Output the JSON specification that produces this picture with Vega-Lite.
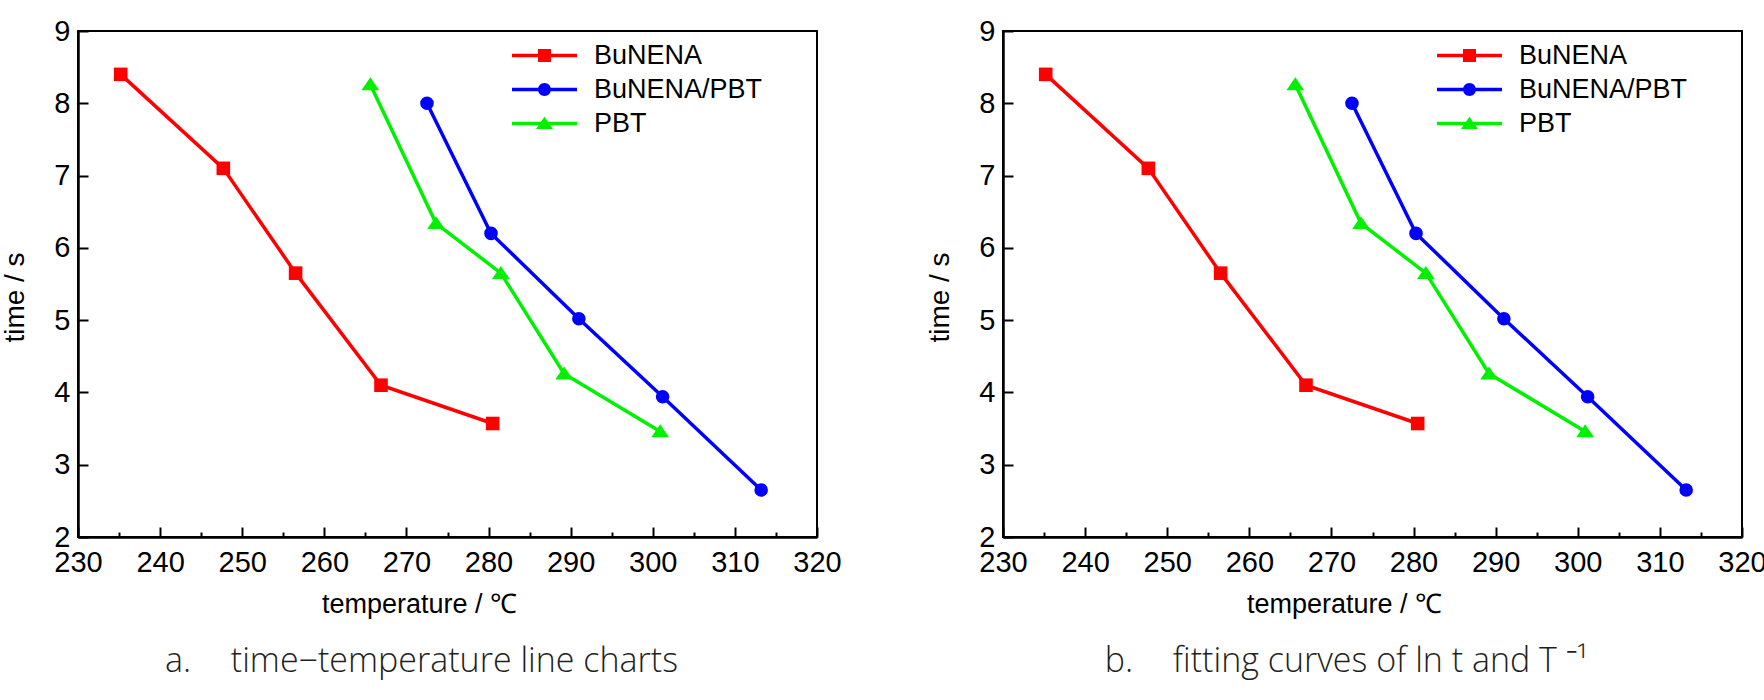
{
  "$schema": "https://vega.github.io/schema/vega-lite/v6.json",
  "padding": {"left": 0, "top": 16, "right": 0, "bottom": 0},
  "background": "white",
  "datasets": {
    "runs": [
      {"series": "BuNENA", "temp": 235.2, "time": 8.40},
      {"series": "BuNENA", "temp": 247.7, "time": 7.10},
      {"series": "BuNENA", "temp": 256.5, "time": 5.65},
      {"series": "BuNENA", "temp": 266.9, "time": 4.10},
      {"series": "BuNENA", "temp": 280.5, "time": 3.57},
      {"series": "BuNENA/PBT", "temp": 272.5, "time": 8.00},
      {"series": "BuNENA/PBT", "temp": 280.3, "time": 6.20},
      {"series": "BuNENA/PBT", "temp": 291.0, "time": 5.02},
      {"series": "BuNENA/PBT", "temp": 301.2, "time": 3.94},
      {"series": "BuNENA/PBT", "temp": 313.2, "time": 2.65},
      {"series": "PBT", "temp": 265.6, "time": 8.26},
      {"series": "PBT", "temp": 273.6, "time": 6.34},
      {"series": "PBT", "temp": 281.5, "time": 5.65},
      {"series": "PBT", "temp": 289.2, "time": 4.26},
      {"series": "PBT", "temp": 300.9, "time": 3.46}
    ]
  },
  "spacing": 82,
  "resolve": {"scale": {"color": "independent", "shape": "independent"}},
  "hconcat": [
    {
      "width": 739,
      "height": 506,
      "title": {"text": "a.\u2003\u2009time−temperature line charts"},
      "data": {"name": "runs"},
      "encoding": {
        "x": {
          "field": "temp",
          "type": "quantitative",
          "title": "temperature / ℃",
          "scale": {"domain": [230, 320], "nice": false, "zero": false},
          "axis": {
            "values": [230, 235, 240, 245, 250, 255, 260, 265, 270, 275, 280, 285, 290, 295, 300, 305, 310, 315, 320],
            "format": "d",
            "labelExpr": "datum.value % 10 === 0 ? datum.label : ''",
            "tickSize": {"condition": {"test": "datum.value % 10 === 0", "value": -10}, "value": -5}
          }
        },
        "y": {
          "field": "time",
          "type": "quantitative",
          "title": "time / s",
          "scale": {"domain": [2, 9], "nice": false, "zero": false},
          "axis": {
            "values": [2, 2.5, 3, 3.5, 4, 4.5, 5, 5.5, 6, 6.5, 7, 7.5, 8, 8.5, 9],
            "format": "d",
            "labelExpr": "datum.value % 1 === 0 ? datum.label : ''",
            "tickSize": {"condition": {"test": "datum.value % 1 === 0", "value": -10}, "value": -5}
          }
        },
        "detail": {"field": "series"},
        "color": {
          "condition": [
            {"test": "datum.series === 'BuNENA'", "value": "#ff0000"},
            {"test": "datum.series === 'BuNENA/PBT'", "value": "#0000ff"}
          ],
          "value": "#00f000"
        }
      },
      "layer": [
        {"mark": {"type": "line", "strokeWidth": 3.5}},
        {
          "mark": {"type": "point", "filled": true, "opacity": 1, "size": 185, "strokeWidth": 0},
          "encoding": {
            "shape": {
              "condition": [
                {"test": "datum.series === 'BuNENA'", "value": "square"},
                {"test": "datum.series === 'BuNENA/PBT'", "value": "circle"}
              ],
              "value": "M0,-1.05L1.3,0.85L-1.3,0.85Z"
            }
          }
        },
        {
          "transform": [{"filter": "false"}],
          "mark": {"type": "point", "filled": true, "opacity": 1, "strokeWidth": 0},
          "encoding": {
            "color": {
              "field": "series",
              "type": "nominal",
              "scale": {"domain": ["BuNENA", "BuNENA/PBT", "PBT"], "range": ["#ff0000", "#0000ff", "#00f000"]},
              "legend": {"orient": "none", "legendX": 453, "legendY": 11, "title": null}
            },
            "shape": {
              "field": "series",
              "type": "nominal",
              "scale": {
                "domain": ["BuNENA", "BuNENA/PBT", "PBT"],
                "range": [
                  "M-5,-0.27H5V0.27H-5Z M-1,-1H1V1H-1Z",
                  "M-5,-0.27H5V0.27H-5Z M-1,0A1,1 0 1,1 1,0A1,1 0 1,1 -1,0Z",
                  "M-5,-0.27H5V0.27H-5Z M0,-1.05L1.3,0.85L-1.3,0.85Z"
                ]
              },
              "legend": {"orient": "none", "legendX": 453, "legendY": 11, "title": null}
            }
          }
        }
      ]
    },
    {
      "width": 739,
      "height": 506,
      "title": {"text": "b.\u2003\u2009fitting curves of ln t and T ⁻¹"},
      "data": {"name": "runs"},
      "encoding": {
        "x": {
          "field": "temp",
          "type": "quantitative",
          "title": "temperature / ℃",
          "scale": {"domain": [230, 320], "nice": false, "zero": false},
          "axis": {
            "values": [230, 235, 240, 245, 250, 255, 260, 265, 270, 275, 280, 285, 290, 295, 300, 305, 310, 315, 320],
            "format": "d",
            "labelExpr": "datum.value % 10 === 0 ? datum.label : ''",
            "tickSize": {"condition": {"test": "datum.value % 10 === 0", "value": -10}, "value": -5}
          }
        },
        "y": {
          "field": "time",
          "type": "quantitative",
          "title": "time / s",
          "scale": {"domain": [2, 9], "nice": false, "zero": false},
          "axis": {
            "values": [2, 2.5, 3, 3.5, 4, 4.5, 5, 5.5, 6, 6.5, 7, 7.5, 8, 8.5, 9],
            "format": "d",
            "labelExpr": "datum.value % 1 === 0 ? datum.label : ''",
            "tickSize": {"condition": {"test": "datum.value % 1 === 0", "value": -10}, "value": -5}
          }
        },
        "detail": {"field": "series"},
        "color": {
          "condition": [
            {"test": "datum.series === 'BuNENA'", "value": "#ff0000"},
            {"test": "datum.series === 'BuNENA/PBT'", "value": "#0000ff"}
          ],
          "value": "#00f000"
        }
      },
      "layer": [
        {"mark": {"type": "line", "strokeWidth": 3.5}},
        {
          "mark": {"type": "point", "filled": true, "opacity": 1, "size": 185, "strokeWidth": 0},
          "encoding": {
            "shape": {
              "condition": [
                {"test": "datum.series === 'BuNENA'", "value": "square"},
                {"test": "datum.series === 'BuNENA/PBT'", "value": "circle"}
              ],
              "value": "M0,-1.05L1.3,0.85L-1.3,0.85Z"
            }
          }
        },
        {
          "transform": [{"filter": "false"}],
          "mark": {"type": "point", "filled": true, "opacity": 1, "strokeWidth": 0},
          "encoding": {
            "color": {
              "field": "series",
              "type": "nominal",
              "scale": {"domain": ["BuNENA", "BuNENA/PBT", "PBT"], "range": ["#ff0000", "#0000ff", "#00f000"]},
              "legend": {"orient": "none", "legendX": 453, "legendY": 11, "title": null}
            },
            "shape": {
              "field": "series",
              "type": "nominal",
              "scale": {
                "domain": ["BuNENA", "BuNENA/PBT", "PBT"],
                "range": [
                  "M-5,-0.27H5V0.27H-5Z M-1,-1H1V1H-1Z",
                  "M-5,-0.27H5V0.27H-5Z M-1,0A1,1 0 1,1 1,0A1,1 0 1,1 -1,0Z",
                  "M-5,-0.27H5V0.27H-5Z M0,-1.05L1.3,0.85L-1.3,0.85Z"
                ]
              },
              "legend": {"orient": "none", "legendX": 453, "legendY": 11, "title": null}
            }
          }
        }
      ]
    }
  ],
  "config": {
    "font": "Liberation Sans",
    "view": {"stroke": "black", "strokeWidth": 2},
    "axis": {
      "grid": false,
      "domainColor": "black",
      "domainWidth": 2.5,
      "tickColor": "black",
      "tickWidth": 2,
      "labelFont": "Liberation Sans",
      "labelFontSize": 29,
      "labelColor": "black",
      "labelFlush": false,
      "labelOverlap": false,
      "titleFont": "Liberation Sans",
      "titleFontWeight": "normal",
      "titleColor": "black"
    },
    "axisX": {"labelPadding": 21, "titlePadding": 9, "titleFontSize": 27, "titleX": 341},
    "axisY": {"labelPadding": 18, "titlePadding": 24, "titleFontSize": 28, "titleY": 266},
    "legend": {
      "labelFont": "Liberation Sans",
      "labelFontSize": 27,
      "labelColor": "black",
      "labelLimit": 400,
      "symbolSize": 169,
      "symbolStrokeWidth": 0,
      "labelOffset": 36,
      "rowPadding": 6,
      "padding": 0
    },
    "title": {
      "orient": "bottom",
      "anchor": "middle",
      "frame": "bounds",
      "font": "Open Sans",
      "fontSize": 34,
      "fontWeight": 300,
      "color": "#231f20",
      "offset": 28
    }
  }
}
